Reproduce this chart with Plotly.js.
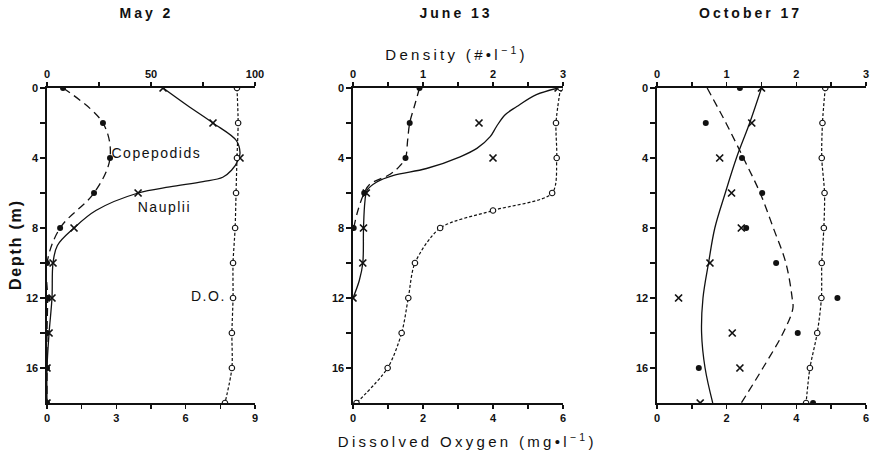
<!DOCTYPE html>
<html>
<head>
<meta charset="utf-8">
<script src="https://cdn.plot.ly/plotly-3.0.1.min.js"></script>
<style>
  html, body { margin: 0; padding: 0; background: #fff; }
  #chart { width: 876px; height: 452px; }
  .annotation[data-index="0"] text,
  .annotation[data-index="1"] text,
  .annotation[data-index="2"] text { letter-spacing: 3px; }
  .annotation[data-index="3"] text,
  .annotation[data-index="4"] text { letter-spacing: 3.3px; }
  .annotation[data-index="5"] text { letter-spacing: 1.8px; }
  .annotation[data-index="6"] text,
  .annotation[data-index="7"] text,
  .annotation[data-index="8"] text { letter-spacing: 1.5px; }
</style>
</head>
<body>
<div id="chart"></div>
<script>
// Sampling depths (m)
const depths = [0, 2, 4, 6, 8, 10, 12, 14, 16, 18];

// ---- May 2 ----
const mayCopepodids = [7.7, 26.9, 30.3, 22.6, 6.3, 0, 0.3, 0, 0, 0];
const mayNauplii = [55.8, 79.8, 92.8, 43.8, 13, 2.9, 2.4, 1, 0, 0];
const mayNaupliiCurveDepth = [0, 1, 2, 3, 3.7, 4.1, 4.7, 5.1, 5.35, 5.65, 6, 7, 8, 9, 10, 12, 14, 16, 18];
const mayNaupliiCurve = [55.8, 67.5, 79.8, 91, 92.8, 92, 88.7, 84.5, 75, 59, 43.8, 23.5, 13, 5, 2.9, 2.4, 1, 0, 0];
const mayOxygen = [8.22, 8.27, 8.22, 8.18, 8.14, 8.05, 8.05, 8.0, 8.0, 7.7];

// ---- June 13 ----
const juneCopepodidDepths = [0, 2, 4, 6, 8];
const juneCopepodids = [0.95, 0.81, 0.75, 0.16, 0.01];
const juneCopepodidCurveDepth = [0, 1, 2, 3, 4, 4.45, 4.93, 5.5, 6, 7, 8];
const juneCopepodidCurve = [0.95, 0.88, 0.81, 0.78, 0.75, 0.67, 0.53, 0.24, 0.16, 0.07, 0.01];
const juneNaupliiDepths = [0, 2, 4, 6, 8, 10, 12];
const juneNauplii = [2.93, 1.80, 2.0, 0.19, 0.15, 0.14, 0];
const juneNaupliiCurveDepth = [0, 0.38, 1.06, 1.54, 2.2, 2.78, 3.45, 3.93, 4.6, 4.99, 5.37, 5.85, 6.5, 8, 10, 11, 12];
const juneNaupliiCurve = [2.93, 2.62, 2.34, 2.17, 2.05, 1.96, 1.77, 1.53, 1.05, 0.58, 0.34, 0.2, 0.17, 0.15, 0.14, 0.09, 0];
const juneOxygenDepths = [0, 2, 4, 6, 7, 8, 10, 12, 14, 16, 18];
const juneOxygen = [5.93, 5.8, 5.82, 5.69, 4.0, 2.49, 1.77, 1.58, 1.39, 0.99, 0.1];

// ---- October 17 ----
const octCopepodids = [1.19, 0.70, 1.22, 1.51, 1.28, 1.71, 2.59, 2.02, 0.60, 2.24];
const octNauplii = [1.50, 1.36, 0.90, 1.07, 1.21, 0.76, 0.31, 1.08, 1.19, 0.62];
const octCopepodidCurveDepth = [0, 2, 4, 6, 8, 10, 12, 12.6, 14, 16, 18];
const octCopepodidCurve = [0.72, 0.99, 1.24, 1.48, 1.67, 1.85, 1.94, 1.95, 1.81, 1.52, 1.21];
const octNaupliiCurve = [1.50, 1.33, 1.14, 0.98, 0.83, 0.74, 0.66, 0.64, 0.69, 0.80];
const octOxygen = [4.83, 4.75, 4.73, 4.81, 4.79, 4.73, 4.72, 4.60, 4.39, 4.28];

// Axis tick labels
const densityTicks100 = [0, 25, 50, 75, 100];
const densityText100 = ['0', '', '50', '', '100'];
const densityTicks3 = [0, 0.5, 1, 1.5, 2, 2.5, 3];
const densityText3 = ['0', '', '1', '', '2', '', '3'];
const oxygenTicks9 = [0, 1.5, 3, 4.5, 6, 7.5, 9];
const oxygenText9 = ['0', '', '3', '', '6', '', '9'];
const oxygenTicks6 = [0, 1, 2, 3, 4, 5, 6];
const oxygenText6 = ['0', '', '2', '', '4', '', '6'];
const depthTicks = [0, 2, 4, 6, 8, 10, 12, 14, 16];
const depthText = ['0', '', '4', '', '8', '', '12', '', '16'];

const W = 876, H = 452;
const px = v => v / W;
const py = v => 1 - v / H;

const panels = [[47, 255], [353, 563], [657, 866]];
const yDom = [py(403), py(88)];

const INK = '#111';
const FAMILY = 'Liberation Sans, Arial, sans-serif';
const tickFont = { family: FAMILY, size: 11, color: INK, weight: 'bold' };

function xAxis(dom, side, range, vals, text, extra) {
  return Object.assign({
    domain: [px(dom[0]), px(dom[1])],
    side: side,
    range: range,
    tickmode: 'array', tickvals: vals, ticktext: text,
    ticks: 'outside', ticklen: 4, tickwidth: 1.4, tickcolor: INK,
    showline: true, linecolor: INK, linewidth: 1.6,
    showgrid: false, zeroline: false,
    tickfont: tickFont, fixedrange: true
  }, extra);
}
function yAxis(anchor) {
  return {
    domain: yDom, anchor: anchor, range: [18, 0],
    tickmode: 'array', tickvals: depthTicks, ticktext: depthText,
    ticks: 'outside', ticklen: 5, tickwidth: 1.4, tickcolor: INK,
    showline: true, linecolor: INK, linewidth: 1.6,
    showgrid: false, zeroline: false,
    tickfont: tickFont, fixedrange: true
  };
}

const dotMarker = { symbol: 'circle', size: 6, color: INK };
const crossMarker = { symbol: 'x-thin', size: 7, color: INK, line: { color: INK, width: 1.7 } };
const openMarker = { symbol: 'circle', size: 5.5, color: '#fff', line: { color: INK, width: 1.1 } };
const longDash = { color: INK, width: 1.3, dash: '8px,5px', shape: 'spline', smoothing: 1 };
const solid = { color: INK, width: 1.3, shape: 'spline', smoothing: 1 };
const shortDash = { color: INK, width: 1.2, dash: '3px,2px', shape: 'spline', smoothing: 0.8 };

function tr(x, y, xa, ya, mode, line, marker, name) {
  const t = { x: x, y: y, xaxis: xa, yaxis: ya, mode: mode, name: name, hoverinfo: 'x+y' };
  if (line) t.line = line;
  if (marker) t.marker = marker;
  return t;
}

const data = [
  // May 2
  tr(mayCopepodids, depths, 'x', 'y', 'lines+markers', longDash, dotMarker, 'Copepodids'),
  tr(mayNaupliiCurve, mayNaupliiCurveDepth, 'x', 'y', 'lines', solid, null, 'Nauplii'),
  tr(mayNauplii, depths, 'x', 'y', 'markers', null, crossMarker, 'Nauplii'),
  tr(mayOxygen, depths, 'x2', 'y', 'lines+markers', shortDash, openMarker, 'D.O.'),
  // June 13
  tr(juneCopepodidCurve, juneCopepodidCurveDepth, 'x3', 'y2', 'lines', longDash, null, 'Copepodids'),
  tr(juneCopepodids, juneCopepodidDepths, 'x3', 'y2', 'markers', null, dotMarker, 'Copepodids'),
  tr(juneNaupliiCurve, juneNaupliiCurveDepth, 'x3', 'y2', 'lines', solid, null, 'Nauplii'),
  tr(juneNauplii, juneNaupliiDepths, 'x3', 'y2', 'markers', null, crossMarker, 'Nauplii'),
  tr(juneOxygen, juneOxygenDepths, 'x4', 'y2', 'lines+markers', shortDash, openMarker, 'D.O.'),
  // October 17
  tr(octCopepodidCurve, octCopepodidCurveDepth, 'x5', 'y3', 'lines', longDash, null, 'Copepodids'),
  tr(octNaupliiCurve, depths, 'x5', 'y3', 'lines', solid, null, 'Nauplii'),
  tr(octCopepodids, depths, 'x5', 'y3', 'markers', null, dotMarker, 'Copepodids'),
  tr(octNauplii, depths, 'x5', 'y3', 'markers', null, crossMarker, 'Nauplii'),
  tr(octOxygen, depths, 'x6', 'y3', 'lines+markers', shortDash, openMarker, 'D.O.')
];

const titleFont = { family: FAMILY, size: 14, color: INK, weight: 'bold' };
const labelFont = { family: FAMILY, size: 15, color: INK };
const inPlotFont = { family: FAMILY, size: 14, color: INK };

function note(text, x, y, font, extra) {
  return Object.assign({
    text: text, x: x, y: y, xref: 'paper', yref: 'paper',
    showarrow: false, font: font, xanchor: 'center', yanchor: 'middle'
  }, extra);
}

const annotations = [
  note('May 2', px(146), py(13), titleFont),
  note('June 13', px(456), py(13), titleFont),
  note('October 17', px(750), py(13), titleFont),
  note('Density (#\u2022l<sup>\u22121</sup>)', px(456), py(54), labelFont),
  note('Dissolved Oxygen (mg\u2022l<sup>\u22121</sup>)', px(467), py(440), labelFont),
  note('Depth (m)', px(15), py(245), { family: FAMILY, size: 16, color: INK, weight: 'bold' }, { textangle: -90 }),
  note('Copepodids', 33.5, 3.7, inPlotFont, { xref: 'x', yref: 'y', xanchor: 'left' }),
  note('Nauplii', 56.5, 6.8, inPlotFont, { xref: 'x', yref: 'y' }),
  note('D.O.', 7.7, 11.9, inPlotFont, { xref: 'x2', yref: 'y', xanchor: 'right' })
];

const layout = {
  width: W, height: H,
  margin: { l: 0, r: 0, t: 0, b: 0 },
  paper_bgcolor: '#fff', plot_bgcolor: 'rgba(0,0,0,0)',
  showlegend: false,
  font: { family: FAMILY, color: INK },
  xaxis: xAxis(panels[0], 'top', [0, 100], densityTicks100, densityText100, { anchor: 'y' }),
  xaxis2: xAxis(panels[0], 'bottom', [0, 9], oxygenTicks9, oxygenText9, { anchor: 'y', overlaying: 'x' }),
  xaxis3: xAxis(panels[1], 'top', [0, 3], densityTicks3, densityText3, { anchor: 'y2' }),
  xaxis4: xAxis(panels[1], 'bottom', [0, 6], oxygenTicks6, oxygenText6, { anchor: 'y2', overlaying: 'x3' }),
  xaxis5: xAxis(panels[2], 'top', [0, 3], densityTicks3, densityText3, { anchor: 'y3' }),
  xaxis6: xAxis(panels[2], 'bottom', [0, 6], oxygenTicks6, oxygenText6, { anchor: 'y3', overlaying: 'x5' }),
  yaxis: yAxis('x'),
  yaxis2: yAxis('x3'),
  yaxis3: yAxis('x5'),
  annotations: annotations
};

Plotly.newPlot('chart', data, layout, { displayModeBar: false, staticPlot: true });
</script>
</body>
</html>
